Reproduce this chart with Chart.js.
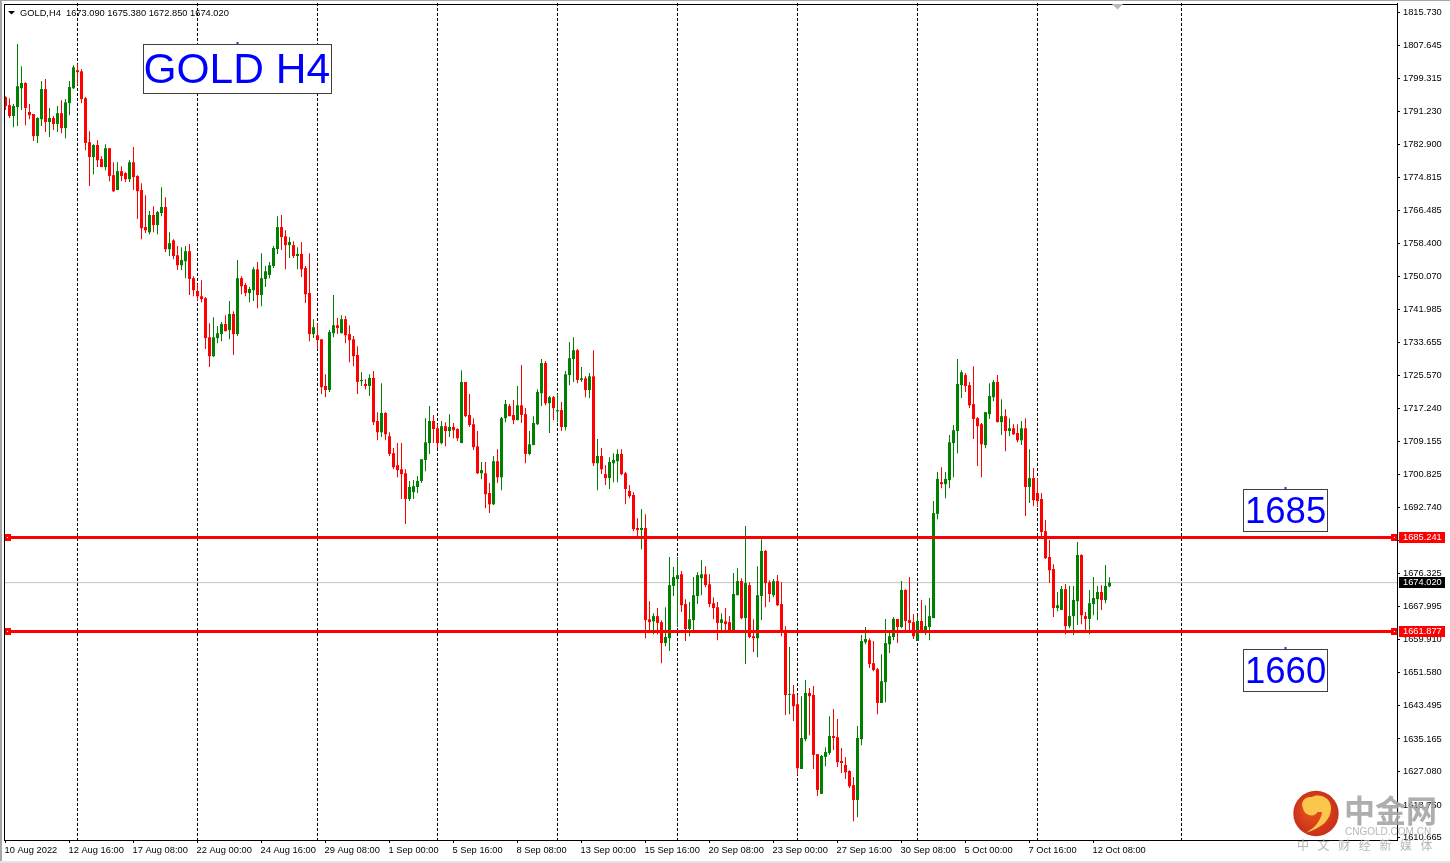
<!DOCTYPE html>
<html><head><meta charset="utf-8">
<style>html,body{margin:0;padding:0;background:#fff;overflow:hidden}canvas{display:block}</style>
<script src="https://cdn.jsdelivr.net/npm/chart.js@4"></script>
</head><body>
<canvas id="c" width="1450" height="863"></canvas>
<script>
const highs=[1794.9,1794.4,1793.0,1807.9,1802.4,1798.4,1793.0,1790.5,1789.7,1798.7,
1799.2,1792.0,1790.0,1792.5,1793.9,1794.2,1798.7,1802.6,1802.9,1801.6,
1794.7,1786.2,1783.0,1784.0,1780.0,1783.0,1782.0,1778.5,1778.5,1777.5,
1776.0,1779.0,1782.3,1775.3,1773.3,1770.3,1766.4,1767.6,1766.4,1772.3,
1769.8,1761.1,1759.4,1757.7,1757.4,1757.7,1758.2,1750.2,1748.2,1749.2,
1745.0,1738.5,1740.0,1737.8,1738.8,1740.5,1744.0,1741.5,1754.2,1750.2,
1748.5,1747.5,1752.4,1753.7,1755.9,1752.7,1753.7,1757.7,1765.1,1765.4,
1761.6,1759.9,1758.9,1757.4,1758.7,1752.7,1755.9,1739.5,1738.5,1734.5,
1725.8,1736.8,1745.5,1739.8,1740.5,1740.3,1738.0,1735.3,1732.8,1726.3,
1724.6,1725.8,1726.6,1716.4,1723.6,1716.4,1711.4,1707.5,1708.7,1708.7,
1702.2,1699.3,1699.5,1700.5,1704.7,1714.9,1717.9,1715.7,1713.4,1714.2,
1713.9,1715.9,1713.7,1712.4,1726.8,1723.9,1720.9,1714.9,1711.7,1704.0,
1704.0,1698.8,1705.5,1707.2,1715.2,1719.4,1718.4,1719.4,1722.9,1728.1,
1717.4,1711.7,1715.4,1722.1,1729.6,1729.1,1720.4,1720.4,1720.9,1718.9,
1726.6,1733.8,1735.0,1732.1,1727.6,1725.3,1726.1,1731.8,1709.7,1707.5,
1703.2,1705.2,1706.2,1707.2,1707.2,1701.5,1698.3,1696.5,1690.0,1692.3,
1691.0,1669.4,1666.4,1667.7,1664.7,1667.9,1680.4,1677.9,1680.4,1676.9,
1669.9,1669.2,1675.4,1676.6,1679.6,1678.1,1676.1,1670.4,1669.2,1666.4,
1667.7,1665.7,1676.4,1677.6,1675.1,1688.1,1674.1,1664.9,1678.1,1684.8,
1682.1,1674.6,1674.9,1675.9,1674.1,1663.2,1658.0,1648.6,1646.1,1645.8,
1649.8,1647.8,1648.3,1631.4,1631.2,1633.1,1640.8,1642.6,1640.1,1632.9,
1630.7,1627.4,1625.7,1638.4,1661.0,1663.0,1660.2,1659.5,1652.8,1656.2,
1665.0,1662.0,1665.5,1665.0,1674.4,1672.4,1675.4,1666.2,1665.7,1669.7,
1668.4,1670.2,1694.3,1701.5,1702.7,1701.5,1710.7,1713.2,1729.6,1726.8,
1726.1,1723.9,1727.8,1715.2,1713.7,1716.4,1723.6,1724.4,1725.6,1719.6,
1717.1,1714.9,1713.4,1713.4,1714.2,1714.9,1707.2,1702.5,1700.0,1696.3,
1689.6,1684.6,1678.6,1671.7,1673.2,1673.7,1673.2,1673.2,1684.1,1681.1,
1666.7,1672.2,1675.4,1673.2,1673.4,1678.4,1675.38];
const lows=[1791.5,1789.5,1787.2,1787.5,1791.5,1787.7,1789.2,1783.8,1783.3,1787.5,
1786.0,1784.8,1786.5,1786.0,1785.7,1784.5,1790.2,1796.7,1797.7,1793.2,
1781.5,1772.6,1775.5,1777.3,1777.3,1776.5,1773.8,1771.1,1771.6,1773.8,
1773.6,1773.6,1771.6,1764.4,1759.4,1760.9,1760.6,1761.1,1760.6,1765.1,
1756.2,1755.2,1754.4,1751.7,1751.7,1749.7,1745.5,1745.2,1744.2,1743.7,
1732.1,1727.6,1730.1,1733.5,1734.0,1736.5,1734.5,1730.6,1735.3,1745.7,
1745.2,1743.7,1744.0,1742.2,1742.7,1747.5,1749.7,1752.2,1755.7,1756.7,
1751.9,1754.7,1754.7,1751.9,1750.0,1743.5,1734.0,1734.8,1732.1,1720.9,
1720.1,1721.4,1735.0,1735.8,1736.0,1733.5,1728.8,1727.8,1720.9,1722.9,
1722.1,1720.4,1713.2,1709.4,1710.2,1709.4,1705.5,1702.2,1700.2,1694.8,
1688.6,1694.3,1694.8,1696.3,1698.8,1701.7,1706.0,1708.7,1707.5,1708.4,
1707.9,1710.2,1709.9,1709.2,1708.7,1715.2,1712.7,1707.0,1701.0,1699.7,
1692.5,1691.3,1693.3,1698.8,1697.0,1713.9,1715.4,1713.4,1714.4,1713.7,
1703.7,1705.7,1708.2,1713.2,1717.9,1718.1,1711.2,1714.4,1713.9,1711.7,
1711.9,1723.1,1723.9,1723.6,1723.9,1720.1,1719.9,1703.0,1697.0,1701.0,
1698.3,1697.3,1699.0,1699.0,1700.7,1693.5,1695.0,1686.8,1685.6,1682.3,
1660.2,1662.0,1661.2,1661.2,1654.0,1658.2,1657.0,1670.7,1663.0,1666.7,
1659.5,1660.7,1662.0,1668.7,1670.9,1672.9,1667.9,1664.9,1659.7,1662.2,
1662.0,1662.0,1662.0,1670.9,1664.9,1653.8,1660.2,1656.7,1655.5,1664.7,
1667.9,1669.2,1670.4,1668.2,1660.7,1641.1,1641.3,1639.6,1626.2,1627.7,
1634.6,1636.1,1627.7,1621.0,1621.5,1628.4,1631.2,1632.4,1628.2,1626.7,
1625.2,1623.0,1614.7,1615.7,1633.6,1658.7,1652.8,1652.0,1641.3,1644.1,
1644.3,1656.5,1659.7,1659.0,1662.7,1662.2,1661.5,1660.0,1659.5,1662.0,
1661.0,1659.7,1665.2,1689.8,1697.5,1695.0,1697.5,1700.2,1706.2,1719.9,
1721.4,1717.4,1709.7,1703.0,1700.2,1707.4,1714.7,1719.1,1713.9,1710.7,
1706.7,1710.4,1710.7,1708.9,1708.2,1690.6,1693.8,1693.0,1692.8,1685.6,
1679.9,1673.9,1665.5,1666.9,1667.2,1661.2,1662.7,1661.0,1663.5,1663.7,
1662.0,1661.2,1665.9,1664.7,1667.2,1668.9,1672.85];
const opens=[1794.7,1792.7,1790.0,1792.2,1796.9,1798.2,1791.0,1790.5,1785.0,1789.2,
1796.7,1788.5,1789.5,1788.0,1790.7,1787.0,1793.2,1796.9,1801.4,1801.1,
1794.4,1783.5,1779.8,1782.8,1779.3,1777.3,1782.0,1775.3,1771.6,1776.3,
1775.8,1774.3,1778.5,1775.1,1771.6,1762.4,1761.1,1765.4,1762.9,1765.9,
1767.4,1756.9,1759.1,1755.4,1752.9,1753.9,1756.4,1749.7,1746.5,1745.2,
1744.7,1735.0,1730.3,1734.8,1735.8,1738.3,1736.8,1740.8,1735.8,1749.7,
1748.0,1746.0,1746.7,1751.9,1745.5,1749.5,1750.5,1752.7,1756.9,1762.4,
1760.1,1757.9,1757.9,1755.2,1755.7,1752.2,1746.0,1735.8,1735.5,1734.5,
1722.9,1721.9,1736.0,1738.0,1736.0,1739.5,1735.8,1734.5,1730.6,1724.1,
1723.4,1722.9,1724.9,1714.2,1711.4,1716.2,1710.4,1706.2,1703.2,1702.2,
1701.2,1694.8,1696.5,1697.8,1699.3,1704.5,1708.7,1714.2,1712.4,1708.7,
1712.9,1711.7,1712.7,1712.2,1708.7,1723.9,1715.7,1713.4,1707.9,1701.2,
1701.2,1696.3,1693.5,1704.2,1700.2,1714.9,1717.9,1715.7,1714.4,1718.1,
1715.9,1706.0,1708.2,1713.4,1721.1,1728.6,1718.6,1720.1,1716.6,1716.9,
1712.7,1725.6,1729.6,1731.8,1724.4,1724.8,1721.9,1725.3,1703.7,1705.5,
1701.0,1700.0,1703.7,1704.2,1706.0,1701.2,1696.8,1695.8,1687.6,1687.1,
1687.6,1664.9,1664.4,1665.7,1664.2,1659.0,1660.2,1673.2,1674.9,1676.1,
1668.7,1662.5,1664.7,1670.7,1675.1,1676.1,1673.6,1668.9,1667.9,1664.0,
1664.4,1664.2,1662.0,1670.9,1674.4,1665.2,1673.4,1660.7,1660.2,1670.7,
1681.9,1674.1,1670.9,1674.4,1668.7,1661.7,1646.1,1646.3,1643.8,1627.7,
1635.1,1646.6,1646.1,1631.4,1621.5,1630.7,1631.7,1635.9,1635.6,1629.7,
1628.7,1627.2,1623.7,1620.0,1635.1,1659.2,1659.7,1654.0,1652.5,1644.1,
1649.3,1658.7,1660.5,1665.0,1663.0,1672.2,1664.7,1664.2,1659.5,1664.5,
1662.2,1663.0,1665.2,1691.1,1699.0,1698.5,1699.5,1708.7,1711.7,1723.1,
1725.6,1723.1,1718.4,1714.9,1713.4,1708.2,1715.9,1720.1,1723.9,1713.9,
1715.4,1711.7,1712.4,1711.2,1709.4,1712.4,1697.8,1700.0,1696.3,1694.8,
1686.8,1680.4,1677.4,1667.7,1667.2,1672.4,1663.2,1665.7,1669.4,1680.9,
1665.7,1665.0,1668.7,1669.9,1671.7,1669.7,1673.09];
const closes=[1792.5,1790.0,1792.5,1797.4,1798.2,1792.0,1790.2,1785.0,1789.5,1796.7,
1788.5,1789.5,1788.0,1790.7,1787.0,1793.4,1797.2,1802.1,1800.9,1794.2,
1783.3,1779.8,1782.8,1779.0,1777.3,1782.0,1775.1,1771.3,1776.3,1775.1,
1774.3,1778.5,1774.8,1771.3,1762.1,1761.6,1765.4,1762.9,1766.1,1767.4,
1756.9,1758.4,1755.2,1752.9,1754.2,1756.4,1749.5,1746.7,1745.2,1744.5,
1734.8,1730.3,1735.0,1736.0,1738.3,1736.5,1740.8,1735.8,1749.7,1747.7,
1746.0,1747.0,1751.9,1745.5,1749.7,1751.4,1752.9,1757.2,1762.4,1759.9,
1757.9,1758.7,1755.2,1755.7,1751.9,1745.7,1735.8,1737.5,1734.3,1722.6,
1721.9,1736.3,1738.0,1737.3,1739.5,1735.5,1734.3,1730.3,1723.9,1724.4,
1722.9,1724.9,1713.9,1711.4,1716.2,1710.9,1706.0,1702.7,1702.0,1701.0,
1694.8,1697.8,1698.0,1699.3,1704.7,1708.9,1714.2,1712.2,1708.7,1712.9,
1711.7,1712.7,1711.9,1709.9,1723.9,1715.4,1713.2,1707.7,1701.2,1702.0,
1696.0,1693.5,1704.2,1700.2,1714.9,1718.4,1715.4,1714.4,1718.1,1715.7,
1706.0,1708.4,1713.7,1721.4,1728.6,1718.6,1720.1,1717.4,1716.9,1712.7,
1725.8,1729.8,1731.8,1724.4,1724.8,1721.9,1725.3,1703.7,1705.5,1702.2,
1700.0,1704.0,1704.5,1706.0,1701.0,1697.3,1695.5,1687.3,1687.1,1687.6,
1664.7,1664.2,1665.7,1664.0,1659.0,1660.5,1673.4,1675.4,1675.9,1668.4,
1662.5,1664.9,1670.9,1675.9,1676.1,1673.4,1668.7,1667.7,1664.0,1664.9,
1663.7,1662.2,1671.2,1674.4,1665.2,1673.9,1660.5,1660.2,1670.9,1681.9,
1673.9,1671.2,1674.4,1668.4,1661.7,1646.1,1646.3,1643.3,1627.9,1635.4,
1646.6,1645.8,1631.2,1622.5,1630.9,1631.9,1635.9,1635.4,1629.4,1629.2,
1626.9,1623.4,1620.0,1635.4,1659.5,1660.0,1653.8,1652.3,1644.1,1649.5,
1659.0,1660.7,1665.0,1663.0,1672.2,1664.5,1664.0,1660.7,1664.5,1662.0,
1663.2,1665.7,1691.3,1699.8,1698.5,1699.8,1708.9,1711.9,1723.4,1726.3,
1722.9,1718.1,1714.7,1712.9,1708.4,1716.4,1720.4,1723.9,1713.9,1715.4,
1711.7,1712.4,1710.9,1709.4,1712.4,1697.8,1700.0,1694.5,1694.3,1686.6,
1680.1,1677.1,1667.7,1668.4,1672.4,1663.2,1665.7,1669.7,1680.9,1665.9,
1665.0,1668.9,1670.2,1671.7,1669.7,1673.2,1674.02];
const priceTicks=[1815.73,1807.645,1799.315,1791.23,1782.9,1774.815,1766.485,1758.4,1750.07,1741.985,1733.655,1725.57,1717.24,1709.155,1700.825,1692.74,1684.41,1676.325,1667.995,1659.91,1651.58,1643.495,1635.165,1627.08,1618.75,1610.665];
const timeTickBars=[0,16,32,48,64,80,96,112,128,144,160,176,192,208,224,240,256,272];
const timeTickLabels=['10 Aug 2022','12 Aug 16:00','17 Aug 08:00','22 Aug 00:00','24 Aug 16:00','29 Aug 08:00','1 Sep 00:00','5 Sep 16:00','8 Sep 08:00','13 Sep 00:00','15 Sep 16:00','20 Sep 08:00','23 Sep 00:00','27 Sep 16:00','30 Sep 08:00','5 Oct 00:00','7 Oct 16:00','12 Oct 08:00'];
const separatorBars=[18,48,78,108,138,168,198,228,258,294];
const resistance=1685.241, support=1661.877, bid=1674.02;
const headerText='GOLD,H4  1673.090 1675.380 1672.850 1674.020';

const UP='#008000', DOWN='#ff0000', FONT='"Liberation Sans",Arial,sans-serif';
const xMin=-0.375, xMax=347.875;
const candleColors=opens.map((o,i)=>closes[i]>=o?UP:DOWN);
const levelLine=(y,order,color,width,handles)=>({type:'line',order,
  data:(handles?[xMin,0.5,347.25,xMax]:[xMin,xMax]).map(x=>({x,y})),
  borderColor:color,borderWidth:width,
  pointStyle:'rect',
  pointRadius:handles?[0,2.83,2.83,0]:0,pointBackgroundColor:'#ffffff',pointBorderColor:color,pointBorderWidth:3});
const noEdgePadding=s=>{s.paddingTop=0;s.paddingBottom=0;s.paddingLeft=0;s.paddingRight=0;};

const overlay={id:'overlay',
  beforeDraw(c){const x=c.ctx;x.save();
    x.fillStyle='#a6a6a6';x.fillRect(0,0,2,863);x.fillRect(0,0,1450,1);
    x.fillStyle='#e4e4e4';x.fillRect(0,861,1450,2);x.restore();},
  afterDraw(c){const x=c.ctx,a=c.chartArea,Y=c.scales.y;x.save();
    x.strokeStyle='#000';x.lineWidth=1;x.strokeRect(a.left+.5,a.top+1.5,a.right-a.left,a.bottom-a.top-1);
    // header
    x.fillStyle='#000';x.beginPath();x.moveTo(8,11);x.lineTo(15,11);x.lineTo(11.5,14.5);x.closePath();x.fill();
    x.font='9.3px '+FONT;x.textBaseline='middle';x.textAlign='left';x.fillStyle='#000';x.fillText(headerText,20,13);
    // chart-shift marker
    x.fillStyle='#b8b8b8';x.beginPath();x.moveTo(1112,4);x.lineTo(1123,4);x.lineTo(1117.5,9.5);x.closePath();x.fill();
    // text boxes
    const box=(t,l,tp,r,b,size,tx,by)=>{x.fillStyle='#fff';x.fillRect(l,tp,r-l,b-tp);
      x.strokeStyle='#404040';x.lineWidth=1;x.strokeRect(l+.5,tp+.5,r-l-1,b-tp-1);
      x.font=size+'px '+FONT;x.textBaseline='alphabetic';x.textAlign='left';x.fillStyle='#0000ff';x.fillText(t,tx,by);
      const m=(l+r)/2;x.fillStyle='#3030d0';x.fillRect(m-1,tp-2,2,2);};
    box('GOLD H4',143,44,332,94,42.5,143.5,83);
    box('1685',1243,489,1328,532,36.5,1245,522.5);
    box('1660',1243,649,1328,692,36.5,1245,682.5);
    // price tags
    const tag=(v,bg)=>{const py=Y.getPixelForValue(v);x.fillStyle=bg;x.fillRect(1399,Math.floor(py)-5,46,11);
      x.font='9.3px '+FONT;x.textBaseline='middle';x.textAlign='left';x.fillStyle='#fff';x.fillText(v.toFixed(3),1403,Math.floor(py)+.5);};
    tag(resistance,'#ff0000');tag(support,'#ff0000');tag(bid,'#000000');
    // watermark
    const g=x.createRadialGradient(1310,808,4,1316,813,23);g.addColorStop(0,'#e8501a');g.addColorStop(1,'#c8301a');
    x.fillStyle=g;x.beginPath();x.arc(1316,813.5,22.7,0,Math.PI*2);x.fill();
    x.fillStyle='#fbc64c';x.beginPath();x.moveTo(1305,833);x.bezierCurveTo(1322,828,1331,820,1331,808);
    x.bezierCurveTo(1331,798,1320,793,1312,797);x.bezierCurveTo(1305,796,1300,802,1303,808);
    x.bezierCurveTo(1304,816,1316,819,1318,810);x.bezierCurveTo(1318,805,1312,804,1310,808);
    x.bezierCurveTo(1311,812,1316,812,1322,812);x.bezierCurveTo(1321,822,1312,830,1305,833);x.closePath();x.fill();
    x.textAlign='left';x.textBaseline='alphabetic';
    x.fillStyle='rgba(165,165,165,.9)';x.font='bold 31px "Noto Sans CJK SC"';x.fillText('中金网',1344,822);
    x.fillStyle='rgba(175,175,175,.9)';x.font='10px '+FONT;x.fillText('CNGOLD.COM.CN',1345,835);
    x.font='12px "Noto Sans CJK SC"';x.letterSpacing='8.6px';x.fillText('中文财经新媒体',1297,850);x.letterSpacing='0px';
    x.restore();}
};

new Chart(document.getElementById('c'),{
  type:'bar',
  data:{datasets:[
    levelLine(resistance,0,'#ff0000',3,true),
    levelLine(support,0,'#ff0000',3,true),
    {order:1,grouped:false,barPercentage:.75,categoryPercentage:1,maxBarThickness:3,minBarLength:1,borderWidth:0,
     data:opens.map((o,i)=>({x:i,y:[o,closes[i]]})),backgroundColor:candleColors},
    {order:2,grouped:false,barPercentage:.25,categoryPercentage:1,maxBarThickness:1,borderWidth:0,
     data:lows.map((l,i)=>({x:i,y:[l,highs[i]]})),backgroundColor:candleColors},
    levelLine(bid,3,'#c0c0c0',1,false)
  ]},
  plugins:[overlay],
  options:{
    responsive:false,animation:false,events:[],
    layout:{padding:{left:4,top:3,right:0,bottom:0}},
    plugins:{legend:{display:false},tooltip:{enabled:false},title:{display:false}},
    scales:{
      x:{type:'linear',position:'bottom',min:xMin,max:xMax,offset:false,
        grid:{offset:false,drawOnChartArea:false,drawTicks:true,tickLength:3,tickColor:'#000'},
        border:{display:true,color:'#000'},
        afterBuildTicks(s){s.ticks=timeTickBars.map(value=>({value}));},
        afterFit(s){s.height=23;noEdgePadding(s);},
        ticks:{autoSkip:false,maxRotation:0,minRotation:0,align:'start',labelOffset:-1,padding:2,color:'#000',
          font:{family:FONT,size:9.3},callback:(v,i)=>timeTickLabels[i]}},
      x2:{type:'linear',position:'top',min:xMin,max:xMax,offset:false,
        grid:{offset:false,drawOnChartArea:true,drawTicks:false,color:'#000',lineWidth:1},
        border:{display:false,dash:[3,2]},
        afterBuildTicks(s){s.ticks=separatorBars.map(value=>({value}));},
        afterFit(s){s.height=0;noEdgePadding(s);},
        ticks:{display:false}},
      y:{type:'linear',position:'right',min:1610.05,max:1818.09,
        grid:{drawOnChartArea:false,drawTicks:true,tickLength:3,tickColor:'#000'},
        border:{display:true,color:'#000'},
        afterBuildTicks(s){s.ticks=priceTicks.map(value=>({value}));},
        afterFit(s){s.width=53;noEdgePadding(s);},
        ticks:{autoSkip:false,padding:3,color:'#000',font:{family:FONT,size:9.3},callback:v=>v.toFixed(3)}}
    }
  }
});
</script>
</body></html>
